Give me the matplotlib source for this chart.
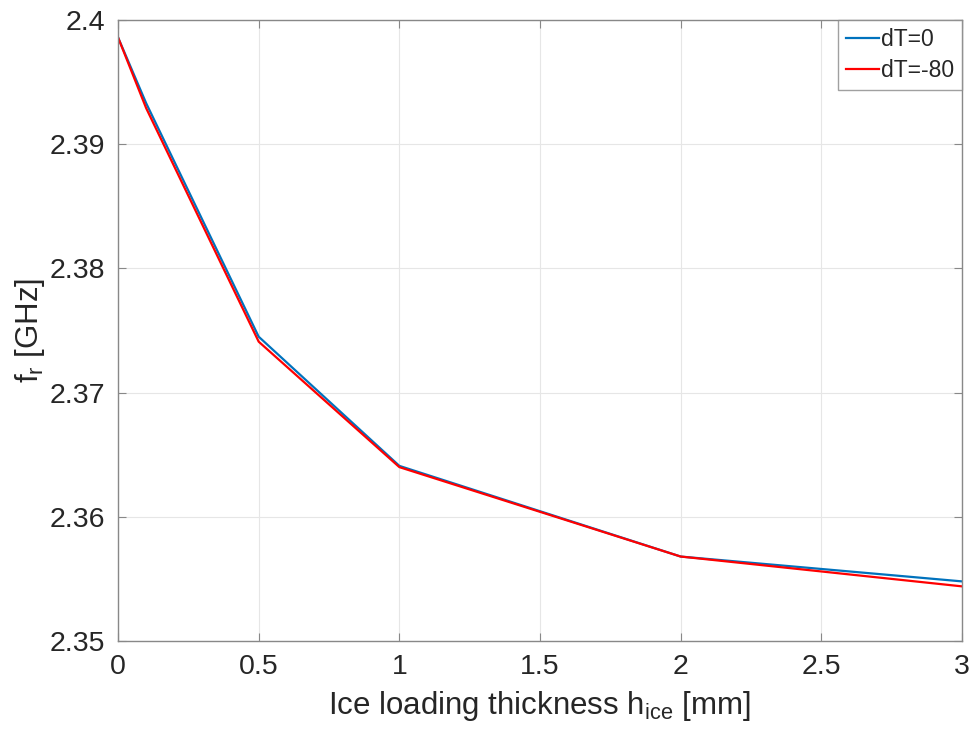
import matplotlib.pyplot as plt
from matplotlib.ticker import FuncFormatter

# Ice thickness [mm] and resonance frequency [GHz]
h_ice = [0, 0.1, 0.5, 1, 2, 3]
fr_dT0 = [2.3986, 2.3933, 2.3745, 2.3641, 2.3568, 2.3548]
fr_dT80 = [2.3986, 2.3929, 2.3741, 2.3640, 2.3568, 2.3544]

plt.rcParams['font.family'] = ['Liberation Sans', 'DejaVu Sans']
plt.rcParams['mathtext.fontset'] = 'custom'
plt.rcParams['mathtext.rm'] = 'Liberation Sans'

txt = '#262626'
fig = plt.figure(figsize=(9.73, 7.29), dpi=100)
ax = fig.add_axes([0.1213, 0.1207, 0.8674, 0.8519])

ax.plot(h_ice, fr_dT0, color='#0072BD', lw=1.6, label='dT=0')
ax.plot(h_ice, fr_dT80, color='#FF0000', lw=1.6, label='dT=-80')

ax.set_xlim(0, 3)
ax.set_ylim(2.35, 2.4)
ax.set_xticks([0, 0.5, 1, 1.5, 2, 2.5, 3])
ax.set_yticks([2.35, 2.36, 2.37, 2.38, 2.39, 2.4])
ax.xaxis.set_major_formatter(FuncFormatter(lambda v, p: '%g' % v))
ax.yaxis.set_major_formatter(FuncFormatter(lambda v, p: '%g' % round(v, 3)))

ax.grid(True, color='#e6e6e6', lw=0.8)
ax.set_axisbelow(True)
ax.tick_params(direction='in', top=True, right=True, length=6, width=0.8,
               colors='#888888', labelcolor=txt, labelsize=20.5, pad=9)
for s in ax.spines.values():
    s.set_color('#888888')
    s.set_linewidth(1.0)

ax.set_xlabel(r'Ice loading thickness h$_\mathregular{ice}$ [mm]', fontsize=22.5, color=txt, labelpad=7)
ax.set_ylabel(r'f$_\mathregular{r}$ [GHz]', fontsize=22.5, color=txt, labelpad=2)

leg = ax.legend(loc='upper right', borderaxespad=0, fancybox=False, fontsize=16.5,
                handlelength=1.4, handletextpad=0.1, borderpad=0.35, labelspacing=0.35)
leg.get_frame().set_edgecolor('#888888')
leg.get_frame().set_linewidth(1.0)
for t in leg.get_texts():
    t.set_color(txt)

fig.savefig('out.png', dpi=100)
